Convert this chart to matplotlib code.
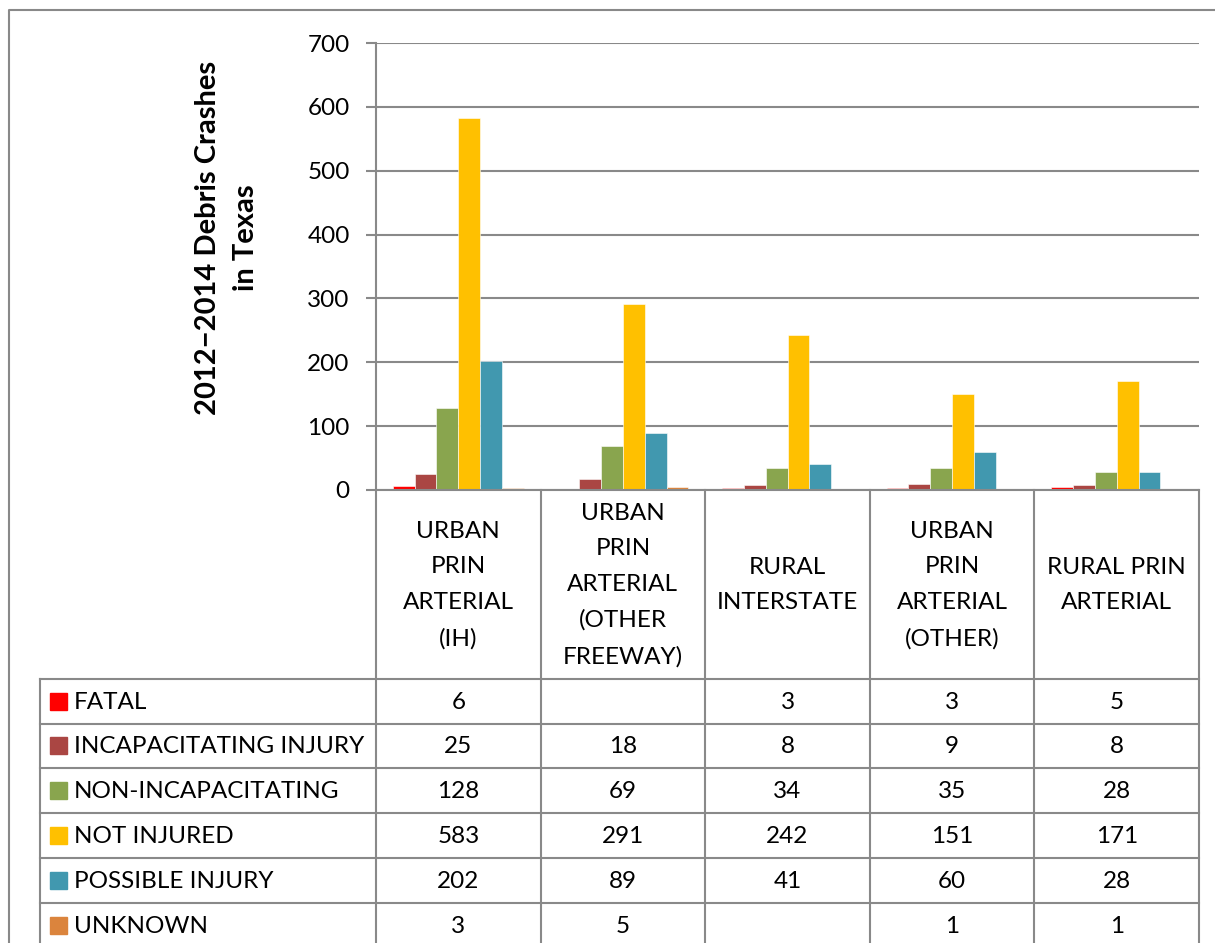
import matplotlib
matplotlib.use("Agg")
import matplotlib.pyplot as plt
import numpy as np

plt.rcParams['font.family'] = ['Lato', 'DejaVu Sans']

categories = ["URBAN\nPRIN\nARTERIAL\n(IH)",
              "URBAN\nPRIN\nARTERIAL\n(OTHER\nFREEWAY)",
              "RURAL\nINTERSTATE",
              "URBAN\nPRIN\nARTERIAL\n(OTHER)",
              "RURAL PRIN\nARTERIAL"]
series_names = ["FATAL", "INCAPACITATING INJURY", "NON-INCAPACITATING",
                "NOT INJURED", "POSSIBLE INJURY", "UNKNOWN"]
fatal = [6, None, 3, 3, 5]
incapacitating = [25, 18, 8, 9, 8]
non_incapacitating = [128, 69, 34, 35, 28]
not_injured = [583, 291, 242, 151, 171]
possible_injury = [202, 89, 41, 60, 28]
unknown = [3, 5, None, 1, 1]
series_values = [fatal, incapacitating, non_incapacitating, not_injured,
                 possible_injury, unknown]
colors = ["#FF0000", "#AA4643", "#89A54E", "#FFC000", "#4198AF", "#DB843D"]
yticks = [0, 100, 200, 300, 400, 500, 600, 700]
ylabel = "2012\u22122014 Debris Crashes\nin Texas"

W, H = 1215, 943
fig = plt.figure(figsize=(W / 100, H / 100), dpi=100)
fig.patch.set_facecolor("white")

# plot area in pixels
px0, px1 = 376, 1199
py_top, py_bot = 43, 490
ax = fig.add_axes([px0 / W, 1 - py_bot / H, (px1 - px0) / W, (py_bot - py_top) / H])
ax.set_facecolor("none")
n_cat = len(categories)
n_ser = len(series_names)
bw = 0.1327
off = (1 - n_ser * bw) / 2
x = np.arange(n_cat)
for j, (vals, c) in enumerate(zip(series_values, colors)):
    v = [0 if a is None else a for a in vals]
    ax.bar(x + off + bw * j + bw / 2, v, width=bw, color=c, zorder=3,
           edgecolor="white", linewidth=0.4)
ax.set_xlim(0, n_cat)
ax.set_ylim(0, 700)
ax.set_yticks(yticks)
ax.set_yticklabels([str(t) for t in yticks], fontsize=17.5, color="black")
ax.set_xticks([])
ax.tick_params(axis='y', length=7, width=1.5, color="#898989", pad=12)
ax.grid(axis='y', color="#898989", linewidth=1.5, zorder=0)
for s in ["top", "right"]:
    ax.spines[s].set_visible(False)
for s in ["left", "bottom"]:
    ax.spines[s].set_color("#898989")
    ax.spines[s].set_linewidth(1.5)
    ax.spines[s].set_zorder(4)

# overlay for table and frame
ov = fig.add_axes([0, 0, 1, 1])
ov.set_xlim(0, W)
ov.set_ylim(H, 0)
ov.axis("off")
ov.set_facecolor("none")
lc = "#898989"
lw = 1.5
# outer frame
ov.plot([8.5, 8.5, W], [H, 9.5, 9.5], color=lc, lw=lw, solid_capstyle="butt")

cw = (px1 - px0) / n_cat
row_lines = [679, 723.5, 768, 813, 858, 903]
row_h = row_lines[1] - row_lines[0]
tbl_left = 40
for k in range(n_cat + 1):
    xx = px0 + k * cw
    ov.plot([xx, xx], [py_bot, H], color=lc, lw=lw)
ov.plot([tbl_left, tbl_left], [row_lines[0], H], color=lc, lw=lw)
for yy in row_lines:
    ov.plot([tbl_left, px1], [yy, yy], color=lc, lw=lw)

fs = 17.5
# category header labels
for k, cat in enumerate(categories):
    ov.text(px0 + (k + 0.5) * cw, (py_bot + row_lines[0]) / 2 + 0.5, cat,
            ha="center", va="center", fontsize=fs, linespacing=1.85)

# rows
for i, (name, vals, c) in enumerate(zip(series_names, series_values, colors)):
    yc = row_lines[i] + row_h / 2
    ov.add_patch(plt.Rectangle((50, yc - 8.5), 17, 17, color=c))
    ov.text(74, yc + 1, name, ha="left", va="center", fontsize=fs)
    for k, v in enumerate(vals):
        if v is not None:
            ov.text(px0 + (k + 0.5) * cw, yc + 1, str(v), ha="center",
                    va="center", fontsize=fs)

# y label
fig.text(227 / W, 1 - 238 / H, ylabel, rotation=90, ha="center", va="center",
         fontsize=21, fontweight="bold", linespacing=1.6)

fig.savefig("out.png", dpi=100)
